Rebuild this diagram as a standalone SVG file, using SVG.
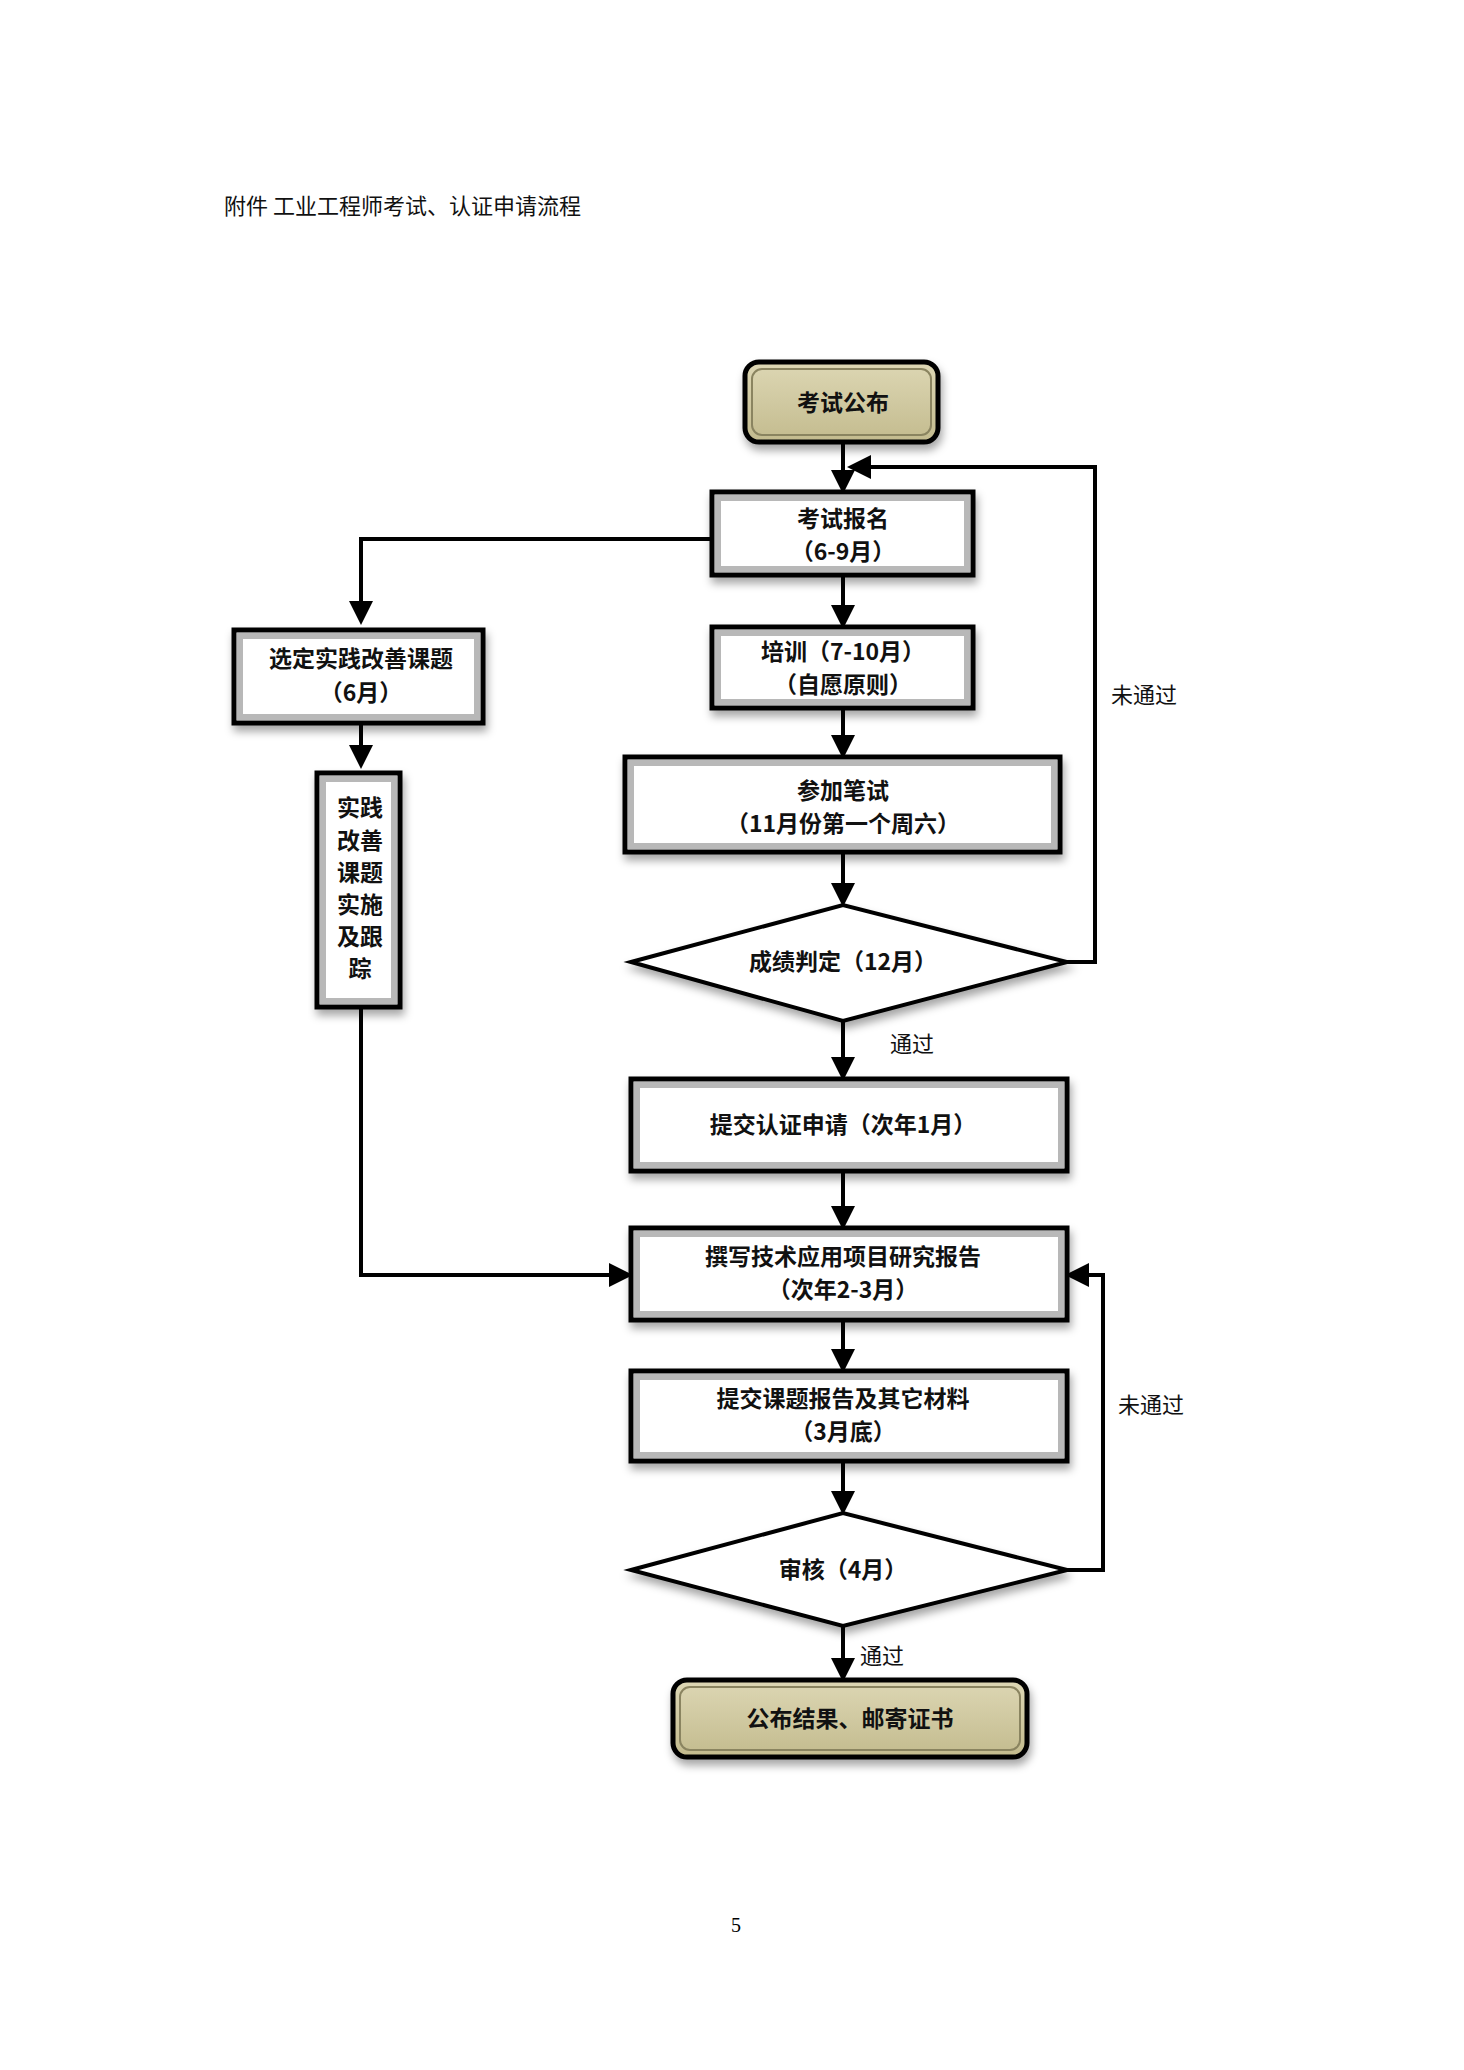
<svg xmlns="http://www.w3.org/2000/svg" width="1464" height="2070" viewBox="0 0 1464 2070">
<defs>
<filter id="sh" x="-10%" y="-10%" width="130%" height="140%"><feDropShadow dx="2" dy="6" stdDeviation="4" flood-color="#000" flood-opacity="0.35"/></filter>
<linearGradient id="kh" x1="0" y1="0" x2="0" y2="1"><stop offset="0" stop-color="#ddd7b4"/><stop offset="1" stop-color="#c3bb8e"/></linearGradient>
<marker id="ar" markerWidth="6" markerHeight="6" refX="5" refY="3" orient="auto" markerUnits="strokeWidth"><path d="M0,0 L6,3 L0,6 z" fill="#000"/></marker>
<style>
.box{fill:#fff;stroke:#000;stroke-width:5;filter:url(#sh)}
.bev{fill:none;stroke:#b8b8b8;stroke-width:6}
.term{fill:url(#kh);stroke:#000;stroke-width:5;filter:url(#sh)}
.dia{fill:#fff;stroke:#000;stroke-width:4;filter:url(#sh)}
.t{font-family:"Noto Sans CJK SC",sans-serif;font-size:23px;font-weight:bold;fill:#111;text-anchor:middle}
.lb{font-family:"Noto Sans CJK SC",sans-serif;font-size:22px;fill:#111}
.c{fill:none;stroke:#000;stroke-width:4;marker-end:url(#ar)}
.cn{fill:none;stroke:#000;stroke-width:4}
</style>
</defs>
<rect width="1464" height="2070" fill="#fff"/>
<text x="224" y="214" class="lb" font-size="24">附件    工业工程师考试、认证申请流程</text>
<text x="736" y="1932" font-family="Liberation Serif,serif" font-size="20" text-anchor="middle">5</text>

<g id="connectors">
<path class="c" d="M843,442 V490"/>
<path class="c" d="M843,575 V625"/>
<path class="c" d="M843,708 V755"/>
<path class="c" d="M843,852 V903"/>
<path class="c" d="M843,1021 V1077"/>
<path class="c" d="M843,1171 V1226"/>
<path class="c" d="M843,1320 V1369"/>
<path class="c" d="M843,1461 V1511"/>
<path class="c" d="M843,1626 V1678"/>
<path class="c" d="M1067,962 H1095 V467 H851"/>
<path class="c" d="M1067,1570 H1103 V1275 H1069"/>
<path class="c" d="M712,539 H361 V621"/>
<path class="c" d="M361,717 V765"/>
<path class="c" d="M361,1003 V1275 H629"/>
</g>
<text x="1111" y="703" class="lb">未通过</text>
<text x="1118" y="1413" class="lb">未通过</text>
<text x="890" y="1052" class="lb">通过</text>
<text x="860" y="1664" class="lb">通过</text>

<g id="n1"><rect class="term" x="745" y="362" width="193" height="80" rx="14"/><rect x="752" y="369" width="179" height="66" rx="10" fill="none" stroke="#8a8460" stroke-width="2"/><text class="t" x="843" y="411" font-size="25">考试公布</text></g>
<g id="n2"><rect class="box" x="712" y="492" width="261" height="83"/><rect class="bev" x="718" y="498" width="249" height="71"/><text class="t" x="843" y="527">考试报名</text><text class="t" x="843" y="560">（6-9月）</text></g>
<g id="n3"><rect class="box" x="712" y="627" width="261" height="81"/><rect class="bev" x="718" y="633" width="249" height="69"/><text class="t" x="843" y="660">培训（7-10月）</text><text class="t" x="843" y="693">（自愿原则）</text></g>
<g id="n4"><rect class="box" x="625" y="757" width="435" height="95"/><rect class="bev" x="631" y="763" width="423" height="83"/><text class="t" x="843" y="799">参加笔试</text><text class="t" x="843" y="832">（11月份第一个周六）</text></g>
<g id="n5"><polygon class="dia" points="631,962 843,905 1067,962 843,1021"/><text class="t" x="843" y="970">成绩判定（12月）</text></g>
<g id="n6"><rect class="box" x="631" y="1079" width="436" height="92"/><rect class="bev" x="637" y="1085" width="424" height="80"/><text class="t" x="843" y="1133">提交认证申请（次年1月）</text></g>
<g id="n7"><rect class="box" x="631" y="1228" width="436" height="92"/><rect class="bev" x="637" y="1234" width="424" height="80"/><text class="t" x="843" y="1265">撰写技术应用项目研究报告</text><text class="t" x="843" y="1298">（次年2-3月）</text></g>
<g id="n8"><rect class="box" x="631" y="1371" width="436" height="90"/><rect class="bev" x="637" y="1377" width="424" height="78"/><text class="t" x="843" y="1407">提交课题报告及其它材料</text><text class="t" x="843" y="1440">（3月底）</text></g>
<g id="n9"><polygon class="dia" points="631,1570 843,1513 1067,1570 843,1626"/><text class="t" x="843" y="1578">审核（4月）</text></g>
<g id="n10"><rect class="term" x="673" y="1680" width="354" height="77" rx="14"/><rect x="680" y="1687" width="340" height="63" rx="10" fill="none" stroke="#8a8460" stroke-width="2"/><text class="t" x="850" y="1727">公布结果、邮寄证书</text></g>
<g id="n11"><rect class="box" x="234" y="630" width="249" height="93"/><rect class="bev" x="240" y="636" width="237" height="81"/><text class="t" x="361" y="667">选定实践改善课题</text><text class="t" x="361" y="701">（6月）</text></g>
<g id="n12"><rect class="box" x="317" y="773" width="83" height="234"/><rect class="bev" x="323" y="779" width="71" height="222"/>
<text class="t" x="360" y="816">实践</text><text class="t" x="360" y="849">改善</text><text class="t" x="360" y="881">课题</text><text class="t" x="360" y="913">实施</text><text class="t" x="360" y="945">及跟</text><text class="t" x="360" y="977">踪</text></g>
</svg>
